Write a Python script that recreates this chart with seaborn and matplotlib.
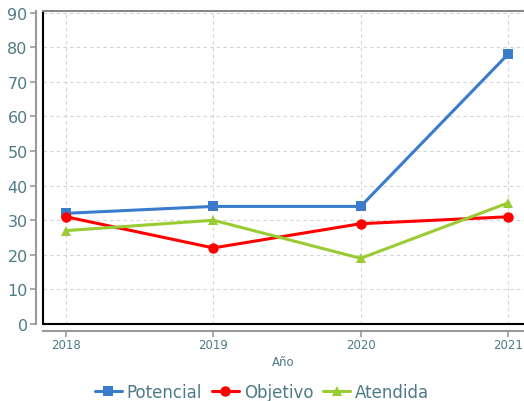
import matplotlib
matplotlib.use("Agg")
import matplotlib.pyplot as plt
import seaborn as sns
import pandas as pd

years = [2018, 2019, 2020, 2021]
potencial = [32, 34, 34, 78]
objetivo = [31, 22, 29, 31]
atendida = [27, 30, 19, 35]
series_names = ["Potencial", "Objetivo", "Atendida"]
colors = ["#3a7bcb", "#ff0000", "#99cc33"]
markers = ["s", "o", "^"]
y_ticks = [0, 10, 20, 30, 40, 50, 60, 70, 80, 90]

df = pd.DataFrame({
    "Año": years * 3,
    "valor": potencial + objetivo + atendida,
    "serie": sum([[n] * len(years) for n in series_names], []),
})

sns.set_style("white")
plt.rcParams["font.family"] = ["DejaVu Sans"]
text_color = "#4d7a88"

fig = plt.figure(figsize=(5.24, 4.02), dpi=100)
ax = fig.add_axes([43 / 524, (402 - 325) / 402, (524 - 43) / 524, (325 - 12) / 402])

sns.lineplot(data=df, x="Año", y="valor", hue="serie", style="serie",
             palette=dict(zip(series_names, colors)),
             markers=dict(zip(series_names, markers)), dashes=False,
             linewidth=2.2, markersize=7.5, markeredgewidth=0, ax=ax)

xl = 2018 - 23 / 147.33
ax.set_xlim(xl, 2021 + 16 / 147.33)
ax.set_ylim(0, 90.5)
ax.set_xticks(years)
ax.set_xticklabels([str(y) for y in years])
ax.set_yticks(y_ticks)
ax.grid(True, color="#d4d4d4", linestyle=(0, (3, 3)), linewidth=0.8)
ax.set_axisbelow(True)

for s in ["left", "bottom"]:
    ax.spines[s].set_position(("outward", 5))
    ax.spines[s].set_color("#999999")
    ax.spines[s].set_linewidth(1.5)
ax.spines["top"].set_color("#888888")
ax.spines["top"].set_linewidth(1.5)
ax.spines["right"].set_visible(False)
ax.axhline(0, color="black", linewidth=1.5, clip_on=False, zorder=1)
ax.axvline(xl, color="black", linewidth=1.5, clip_on=False, zorder=1)

ax.tick_params(axis="y", labelsize=11.5, colors="#999999", labelcolor=text_color,
               length=4, width=1.2, left=True, pad=2)
ax.tick_params(axis="x", labelsize=8.5, colors="#999999", labelcolor=text_color,
               length=4, width=1.2, bottom=True, pad=1)
ax.set_xlabel("Año", fontsize=8.5, color=text_color, labelpad=3)
ax.set_ylabel("")

handles, labels = ax.get_legend_handles_labels()
ax.legend_.remove()
fig.legend(handles, labels, loc="center", bbox_to_anchor=(0.5, 9 / 402),
           ncol=3, frameon=False, fontsize=12, labelcolor=text_color,
           handlelength=1.6, handletextpad=0.3, columnspacing=0.6,
           borderpad=0, borderaxespad=0)

fig.savefig("out.png", dpi=100)
